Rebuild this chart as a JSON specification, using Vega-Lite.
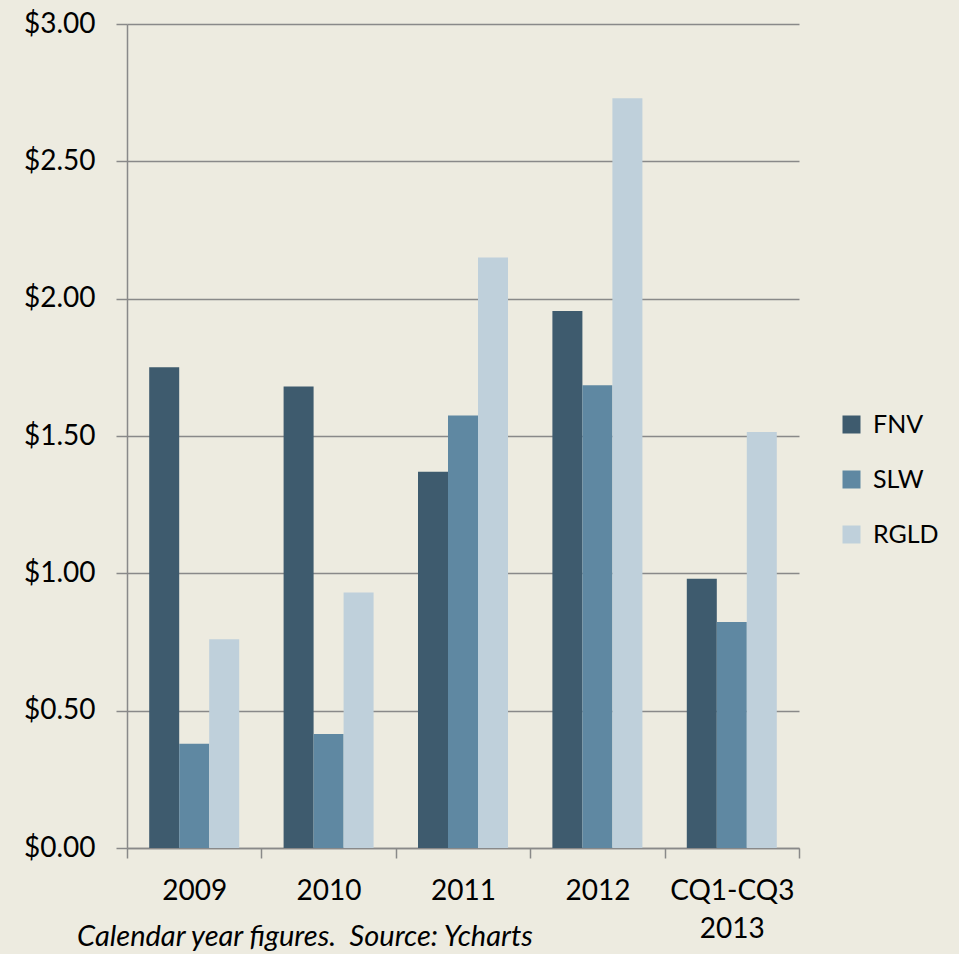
{
  "$schema": "https://vega.github.io/schema/vega-lite/v6.json",
  "autosize": "none",
  "width": 672,
  "height": 824,
  "padding": {"left": 127, "top": 24, "right": 160, "bottom": 106},
  "background": "#EDEBE0",
  "config": {
    "view": {"stroke": null},
    "font": "Lato",
    "axis": {"labelFont": "Lato", "labelColor": "#000000", "domainColor": "#898989", "tickColor": "#898989", "gridColor": "#898989"}
  },
  "title": {
    "text": "Calendar year figures.\u00a0 Source: Ycharts",
    "orient": "bottom",
    "anchor": "start",
    "frame": "group",
    "fontStyle": "italic",
    "fontWeight": "normal",
    "fontSize": 29,
    "font": "Lato",
    "color": "#000000",
    "dx": -50,
    "offset": -20
  },
  "data": {
    "values": [
      {"period": "2009", "ticker": "FNV", "value": 1.75},
      {"period": "2009", "ticker": "SLW", "value": 0.38},
      {"period": "2009", "ticker": "RGLD", "value": 0.76},
      {"period": "2010", "ticker": "FNV", "value": 1.68},
      {"period": "2010", "ticker": "SLW", "value": 0.415},
      {"period": "2010", "ticker": "RGLD", "value": 0.93},
      {"period": "2011", "ticker": "FNV", "value": 1.37},
      {"period": "2011", "ticker": "SLW", "value": 1.575},
      {"period": "2011", "ticker": "RGLD", "value": 2.15},
      {"period": "2012", "ticker": "FNV", "value": 1.955},
      {"period": "2012", "ticker": "SLW", "value": 1.685},
      {"period": "2012", "ticker": "RGLD", "value": 2.73},
      {"period": "CQ1-CQ3 2013", "ticker": "FNV", "value": 0.98},
      {"period": "CQ1-CQ3 2013", "ticker": "SLW", "value": 0.823},
      {"period": "CQ1-CQ3 2013", "ticker": "RGLD", "value": 1.515}
    ]
  },
  "mark": {"type": "bar"},
  "encoding": {
    "x": {
      "field": "period",
      "type": "nominal",
      "sort": null,
      "scale": {"paddingInner": 0, "paddingOuter": 0},
      "axis": {
        "title": null,
        "labelAngle": 0,
        "labelFontSize": 28,
        "labelPadding": 19,
        "tickSize": 10,
        "tickBand": "extent",
        "domainWidth": 1.5,
        "tickWidth": 1.5,
        "labelLineHeight": 38,
        "labelExpr": "datum.label == 'CQ1-CQ3 2013' ? ['CQ1-CQ3', '2013'] : datum.label"
      }
    },
    "xOffset": {"field": "ticker", "type": "nominal", "sort": ["FNV", "SLW", "RGLD"], "scale": {"paddingInner": 0, "paddingOuter": 0.74}},
    "y": {
      "field": "value",
      "type": "quantitative",
      "scale": {"domain": [0, 3]},
      "axis": {
        "title": null,
        "values": [0, 0.5, 1, 1.5, 2, 2.5, 3],
        "format": "$.2f",
        "labelFontSize": 28,
        "labelPadding": 21,
        "tickSize": 11,
        "grid": true,
        "gridWidth": 1.5,
        "domainWidth": 1.5,
        "tickWidth": 1.5
      }
    },
    "color": {
      "field": "ticker",
      "type": "nominal",
      "sort": ["FNV", "SLW", "RGLD"],
      "scale": {"domain": ["FNV", "SLW", "RGLD"], "range": ["#3E5B6E", "#5F88A2", "#BFD0DB"]},
      "legend": {
        "title": null,
        "orient": "none",
        "legendX": 712,
        "legendY": 388,
        "symbolType": "square",
        "symbolSize": 324,
        "symbolStrokeWidth": 0,
        "labelFontSize": 25,
        "labelFont": "Lato",
        "labelColor": "#000000",
        "rowPadding": 29,
        "labelOffset": 9
      }
    }
  }
}
